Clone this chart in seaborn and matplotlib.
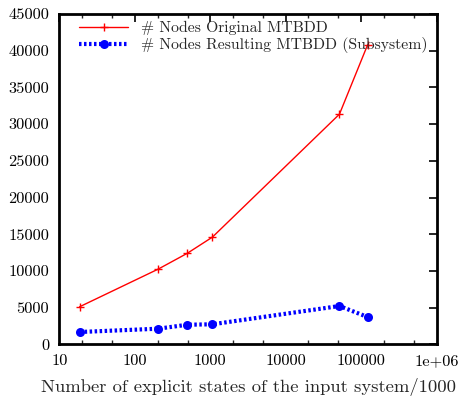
import numpy as np
import pandas as pd
import matplotlib
matplotlib.use("Agg")
import matplotlib.pyplot as plt
import seaborn as sns
from matplotlib.ticker import FixedLocator, NullFormatter

sns.set_style("white")
plt.rcParams["font.family"] = ["cmr10", "DejaVu Serif"]
plt.rcParams["axes.unicode_minus"] = False
plt.rcParams["axes.formatter.use_mathtext"] = True
plt.rcParams["mathtext.fontset"] = "cm"

# values
x_states = [18.5, 204, 495, 1065, 51600, 122000]
orig_nodes = [5120, 10250, 12400, 14600, 31350, 40800]
sub_nodes = [1680, 2130, 2670, 2730, 5220, 3720]

x_ticks = [10, 100, 1000, 10000, 100000, 1000000]
x_tick_labels = ["10", "100", "1000", "10000", "100000", "1e+06"]
y_ticks = list(range(0, 45001, 5000))

df = pd.DataFrame({"states": x_states, "orig": orig_nodes, "sub": sub_nodes})

fig = plt.figure(figsize=(4.63, 3.99), dpi=100)
ax = fig.add_axes([0.1285, 0.137, 0.8143, 0.828])

sns.lineplot(data=df, x="states", y="orig", ax=ax, color="#ff0000", lw=1.0,
             marker="+", markersize=6, markeredgewidth=1.0,
             markeredgecolor="#ff0000",
             label="# Nodes Original MTBDD")
sns.lineplot(data=df, x="states", y="sub", ax=ax, color="#0000ff", lw=3.0,
             linestyle=(0, (0.6, 0.6)), marker="o", markersize=6.5,
             markeredgewidth=0, markeredgecolor="#0000ff",
             label="# Nodes Resulting MTBDD (Subsystem)")

ax.set_xscale("log")
ax.set_xlim(10, 1e6)
ax.set_ylim(0, 45000)
ax.set_xticks(x_ticks)
ax.set_xticklabels(x_tick_labels)
minors = [m * 10 ** e for e in range(1, 6) for m in (2, 5)]
ax.xaxis.set_minor_locator(FixedLocator(minors))
ax.xaxis.set_minor_formatter(NullFormatter())
ax.set_yticks(y_ticks)
ax.set_yticklabels([str(v) for v in y_ticks])

ax.tick_params(which="major", direction="in", length=6, width=1.2,
               top=True, right=True, labelsize=11.8, pad=7.5, colors="black")
ax.tick_params(which="minor", direction="in", length=3, width=1.0,
               top=True, right=True, bottom=True)
for s in ax.spines.values():
    s.set_linewidth(2.0)
    s.set_color("black")

ax.set_xlabel("Number of explicit states of the input system/1000", fontsize=13.4, labelpad=7)
ax.set_ylabel("")

leg = ax.legend(loc="upper left", frameon=False, fontsize=11.3, handlelength=3.1,
                handletextpad=0.8, borderaxespad=0.0, labelspacing=0.1,
                bbox_to_anchor=(0.036, 0.997))

fig.savefig("out.png", dpi=100)
